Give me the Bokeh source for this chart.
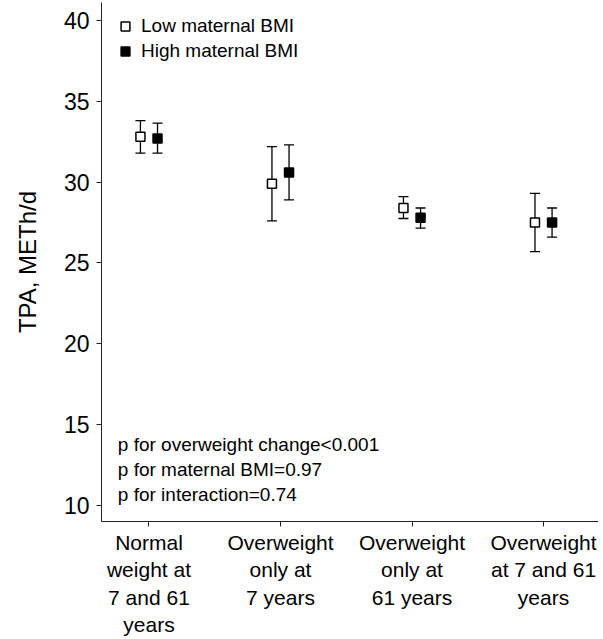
from bokeh.plotting import figure
from bokeh.models import (ColumnDataSource, Whisker, TeeHead, FixedTicker,
                          Legend, LegendItem, Label)
from bokeh.embed import file_html
from bokeh.resources import INLINE

# ---- data ----
categories = ["Normal\nweight at\n7 and 61\nyears",
              "Overweight\nonly at\n7 years",
              "Overweight\nonly at\n61 years",
              "Overweight\nat 7 and 61\nyears"]
series_names = ["Low maternal BMI", "High maternal BMI"]
low_mean = [32.8, 29.9, 28.4, 27.5]
low_lower = [31.8, 27.6, 27.75, 25.7]
low_upper = [33.8, 32.2, 29.1, 29.3]
high_mean = [32.7, 30.6, 27.8, 27.5]
high_lower = [31.8, 28.9, 27.15, 26.6]
high_upper = [33.65, 32.3, 28.4, 28.4]
y_ticks = [10, 15, 20, 25, 30, 35, 40]
p_texts = ["p for overweight change<0.001",
           "p for maternal BMI=0.97",
           "p for interaction=0.74"]

FONT = "Liberation Sans"
idx = list(range(len(categories)))
off = 0.065

src_low = ColumnDataSource(dict(x=[i - off for i in idx], y=low_mean,
                                lower=low_lower, upper=low_upper))
src_high = ColumnDataSource(dict(x=[i + off for i in idx], y=high_mean,
                                 lower=high_lower, upper=high_upper))

p = figure(width=598, height=639, x_range=(-0.361, 3.418), y_range=(9.01, 41.11),
           output_backend="svg", toolbar_location=None,
           min_border_left=101, min_border_right=0, min_border_top=2,
           min_border_bottom=118)
p.outline_line_color = None
p.grid.visible = False

for src in (src_low, src_high):
    w = Whisker(source=src, base="x", lower="lower", upper="upper",
                dimension="height", line_color="black", line_width=1.3,
                lower_head=TeeHead(size=10, line_color="black", line_width=1.3),
                upper_head=TeeHead(size=10, line_color="black", line_width=1.3),
                level="underlay")
    p.add_layout(w)

r_low = p.scatter("x", "y", source=src_low, marker="square", size=9,
                  fill_color="white", line_color="black", line_width=1.5)
r_high = p.scatter("x", "y", source=src_high, marker="square", size=9,
                   fill_color="black", line_color="black", line_width=1.5)

legend = Legend(items=[LegendItem(label=series_names[0], renderers=[r_low]),
                       LegendItem(label=series_names[1], renderers=[r_high])],
                location=(13, 459), padding=0, margin=0, spacing=3,
                glyph_width=22, glyph_height=22, label_standoff=5,
                border_line_alpha=0, background_fill_alpha=0,
                label_text_font=FONT, label_text_font_size="19px",
                label_text_color="black")
p.add_layout(legend)

# p-value annotations
y0 = 13.77
for k, t in enumerate(p_texts):
    p.add_layout(Label(x=-0.237, y=y0 - 1.546 * k, text=t,
                       text_font=FONT, text_font_size="19px",
                       text_baseline="middle", text_align="left",
                       text_color="black"))

# axes
xa = p.xaxis[0]
xa.ticker = FixedTicker(ticks=idx)
xa.major_label_overrides = {i: c for i, c in zip(idx, categories)}
xa.minor_tick_line_color = None
xa.major_tick_in = 0
xa.major_tick_out = 5
xa.major_label_standoff = 4
xa.major_label_text_font = FONT
xa.major_label_text_font_size = "21px"
xa.major_label_text_line_height = 1.2
xa.major_label_text_color = "black"
xa.axis_line_color = "#222222"
xa.major_tick_line_color = "#222222"

ya = p.yaxis[0]
ya.ticker = FixedTicker(ticks=y_ticks)
ya.minor_tick_line_color = None
ya.major_tick_in = 0
ya.major_tick_out = 5
ya.major_label_standoff = 7
ya.major_label_text_font = FONT
ya.major_label_text_font_size = "23px"
ya.major_label_text_color = "black"
ya.axis_line_color = "#222222"
ya.major_tick_line_color = "#222222"
ya.axis_label = "TPA, METh/d"
ya.axis_label_text_font = FONT
ya.axis_label_text_font_size = "24px"
ya.axis_label_text_font_style = "normal"
ya.axis_label_text_color = "black"
ya.axis_label_standoff = 20

open("out.html", "w").write(file_html(p, INLINE))
